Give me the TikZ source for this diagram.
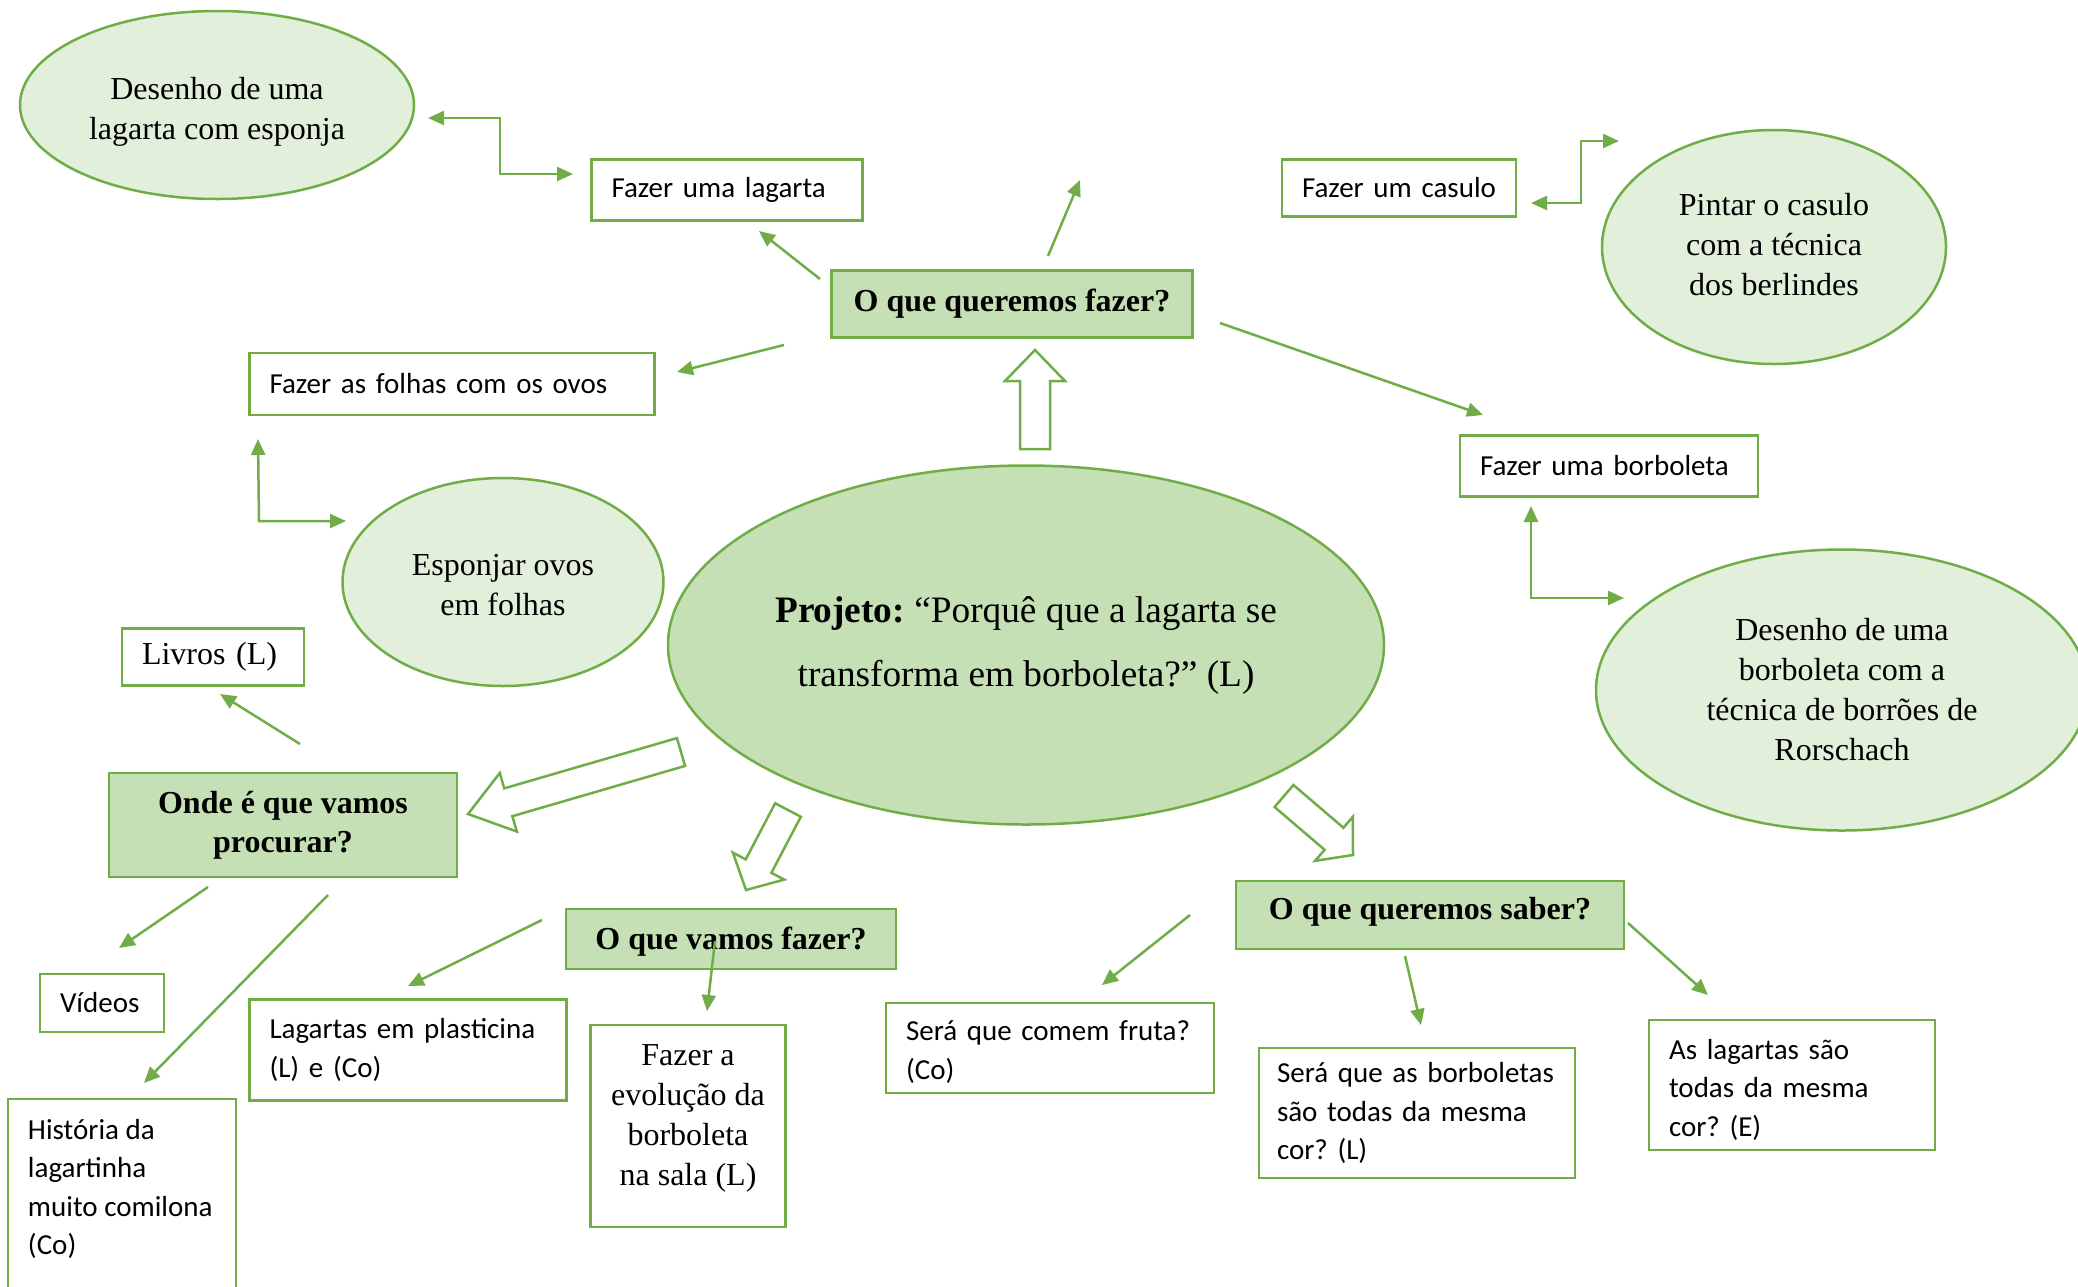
\documentclass[tikz,border=0pt]{standalone}
\usepackage{fontspec}
\setmainfont{Liberation Serif}
\newfontfamily\calib{Carlito}
\usetikzlibrary{shapes.geometric,arrows.meta,calc}
\definecolor{gborder}{HTML}{70AD47}
\definecolor{gfill}{HTML}{C5E0B4}
\definecolor{glight}{HTML}{E2EFDA}

% block (outline) arrow: tail, tip, half shaft width, half head width, head length
\newcommand\myblockarrow[5]{%
  \coordinate (hb) at ($(#2)!#5!(#1)$);
  \draw[blk] ($(#1)!#3!90:(#2)$) -- ($(hb)!#3!90:(#2)$) -- ($(hb)!#4!90:(#2)$) -- (#2)
     -- ($(hb)!#4!-90:(#2)$) -- ($(hb)!#3!-90:(#2)$) -- ($(#1)!#3!-90:(#2)$) -- cycle;
}
% invisible struts to nudge text vertically
\newcommand\uph[1]{\rule{0pt}{#1}}
\newcommand\dnd[1]{\rule[-#1]{0pt}{0pt}}

\begin{document}
\frenchspacing
\hyphenpenalty=10000
\exhyphenpenalty=10000
\begin{tikzpicture}[x=1pt,y=-1pt,
  ell/.style={ellipse, draw=gborder, line width=2.5pt, fill=glight, inner sep=0pt, align=center, font=\fontsize{32}{40}\selectfont},
  hdr/.style={rectangle, draw=gborder, fill=gfill, line width=2.5pt, inner sep=0pt, align=center, font=\fontsize{32}{39}\selectfont\bfseries},
  pbox/.style={rectangle, draw=gborder, fill=white, line width=2.5pt, inner xsep=20pt, inner ysep=0pt, align=left, font=\calib\fontsize{29}{38.5}\selectfont},
  conn/.style={draw=gborder, line width=2.5pt, -{Triangle[length=16pt,width=14pt]}},
  conntwo/.style={draw=gborder, line width=2.5pt, {Triangle[length=16pt,width=14pt]}-{Triangle[length=16pt,width=14pt]}},
  blk/.style={draw=gborder, line width=2.5pt, fill=white, line join=miter}]
\useasboundingbox (0,0) rectangle (2078,1286);
\clip (0,0) rectangle (2078,1286);

% ellipses
\node[ell, minimum width=394pt, minimum height=188pt] (e1) at (217,105) {\uph{36pt}Desenho de uma\\lagarta com esponja};
\node[ell, minimum width=344pt, minimum height=234pt] (e2) at (1774,247) {Pintar o casulo\\com a técnica\\dos berlindes\dnd{6pt}};
\node[ell, minimum width=321pt, minimum height=208pt] (e3) at (503,582) {\uph{28pt}Esponjar ovos\\em folhas};
\node[ell, fill=gfill, font=\fontsize{37.3}{64}\selectfont, minimum width=716pt, minimum height=359pt] (c) at (1026,645) {\textbf{Projeto:} “Porquê que a lagarta se\\transforma em borboleta?” (L)};
\node[ell, minimum width=492pt, minimum height=281pt] (e4) at (1842,690) {Desenho de uma\\borboleta com a\\técnica de borrões de\\Rorschach};

% headers
\node[hdr, minimum width=361pt, minimum height=67pt] (h1) at (1012,304) {O que queremos fazer?};
\node[hdr, minimum width=348pt, minimum height=104pt] (h2) at (283,825) {Onde é que vamos\\procurar?};
\node[hdr, minimum width=330pt, minimum height=60pt] (h3) at (731,939) {\uph{28pt}O que vamos fazer?};
\node[hdr, minimum width=388pt, minimum height=68pt] (h4) at (1430,915) {O que queremos saber?\dnd{13pt}};

% plain boxes
\node[pbox, minimum width=271pt, minimum height=61pt, text width=231pt] (lag) at (727,190) {Fazer uma lagarta};
\node[pbox, minimum width=234pt, minimum height=57pt, text width=194pt] (cas) at (1399,188) {Fazer um casulo};
\node[pbox, minimum width=405pt, minimum height=62pt, text width=365pt] (fol) at (452,384) {Fazer as folhas com os ovos};
\node[pbox, minimum width=298pt, minimum height=61pt, text width=258pt] (bor) at (1609,466) {Fazer uma borboleta};
\node[pbox, font=\fontsize{32}{40}\selectfont, minimum width=182pt, minimum height=57pt, text width=142pt] (liv) at (213,657) {Livros (L)};
\node[pbox, minimum width=124pt, minimum height=58pt, text width=84pt] (vid) at (102,1003) {Vídeos};
\node[pbox, minimum width=317pt, minimum height=101pt, text width=277pt] (pla) at (408,1050) {Lagartas em plasticina\\(L) e (Co)};
\node[rectangle, draw=gborder, line width=2.5pt, fill=white, inner sep=0pt, font=\fontsize{32}{40}\selectfont] (evo) at (688,1126)
  {\parbox[c][202pt][t]{195pt}{\vspace*{20pt}\centering Fazer a\\evolução da\\borboleta\\na sala (L)}};
\node[pbox, minimum width=328pt, minimum height=90pt, text width=288pt] (fru) at (1050,1048) {\uph{28pt}Será que comem fruta?\\(Co)};
\node[pbox, inner xsep=18pt, minimum width=316pt, minimum height=130pt, text width=280pt] (sbq) at (1417,1113) {Será que as borboletas\\são todas da mesma\\cor? (L)};
\node[pbox, minimum width=286pt, minimum height=130pt, text width=246pt] (alq) at (1792,1085) {\uph{29pt}As lagartas são\\todas da mesma\\cor? (E)};
\node[rectangle, draw=gborder, line width=2.5pt, fill=white, inner sep=0pt, font=\calib\fontsize{29}{38.5}\selectfont] (his) at (122,1214)
  {\parbox[c][230pt][t]{228pt}{\vspace*{20pt}\raggedright\leftskip=20pt História da\\lagartinha\\muito comilona\\(Co)}};

% block arrows
\coordinate (b1t) at (1035,449); \coordinate (b1h) at (1035,350);
\coordinate (b2t) at (681,752);  \coordinate (b2h) at (468,814);
\coordinate (b3t) at (788,810);  \coordinate (b3h) at (746,890);
\coordinate (b4t) at (1284,796); \coordinate (b4h) at (1353,855);
\myblockarrow{b1t}{b1h}{15pt}{30pt}{31pt}
\myblockarrow{b2t}{b2h}{14.5pt}{30.5pt}{42pt}
\myblockarrow{b3t}{b3h}{14.5pt}{29pt}{27pt}
\myblockarrow{b4t}{b4h}{14.5pt}{29pt}{25pt}

% thin arrows
\coordinate (a1s) at (820,279);  \coordinate (a1e) at (759,231);
\coordinate (a2s) at (1048,256); \coordinate (a2e) at (1080,180);
\coordinate (a3s) at (784,345);  \coordinate (a3e) at (677,372);
\coordinate (a4s) at (1220,323); \coordinate (a4e) at (1483,415);
\coordinate (a5s) at (300,744);  \coordinate (a5e) at (220,694);
\coordinate (a6s) at (208,887);  \coordinate (a6e) at (119,948);
\coordinate (a7s) at (328,895);  \coordinate (a7e) at (144,1083);
\coordinate (a8s) at (542,920);  \coordinate (a8e) at (408,986);
\coordinate (a9s) at (715,941);  \coordinate (a9e) at (707,1011);
\coordinate (a10s) at (1190,915); \coordinate (a10e) at (1102,985);
\coordinate (a11s) at (1405,956); \coordinate (a11e) at (1421,1025);
\coordinate (a12s) at (1628,923); \coordinate (a12e) at (1708,995);
\foreach \i in {1,...,12} { \draw[conn] (a\i s) -- (a\i e); }

% elbow double arrows
\coordinate (k1a) at (428,118); \coordinate (k1b) at (500,118); \coordinate (k1c) at (500,174); \coordinate (k1d) at (573,174);
\draw[conntwo] (k1a) -- (k1b) -- (k1c) -- (k1d);
\coordinate (k2a) at (1531,203); \coordinate (k2b) at (1581,203); \coordinate (k2c) at (1581,141); \coordinate (k2d) at (1619,141);
\draw[conntwo] (k2a) -- (k2b) -- (k2c) -- (k2d);
\coordinate (k3a) at (258,439); \coordinate (k3b) at (259,521); \coordinate (k3c) at (346,521);
\draw[conntwo] (k3a) -- (k3b) -- (k3c);
\coordinate (k4a) at (1531,506); \coordinate (k4b) at (1531,598); \coordinate (k4c) at (1624,598);
\draw[conntwo] (k4a) -- (k4b) -- (k4c);
\end{tikzpicture}
\end{document}
